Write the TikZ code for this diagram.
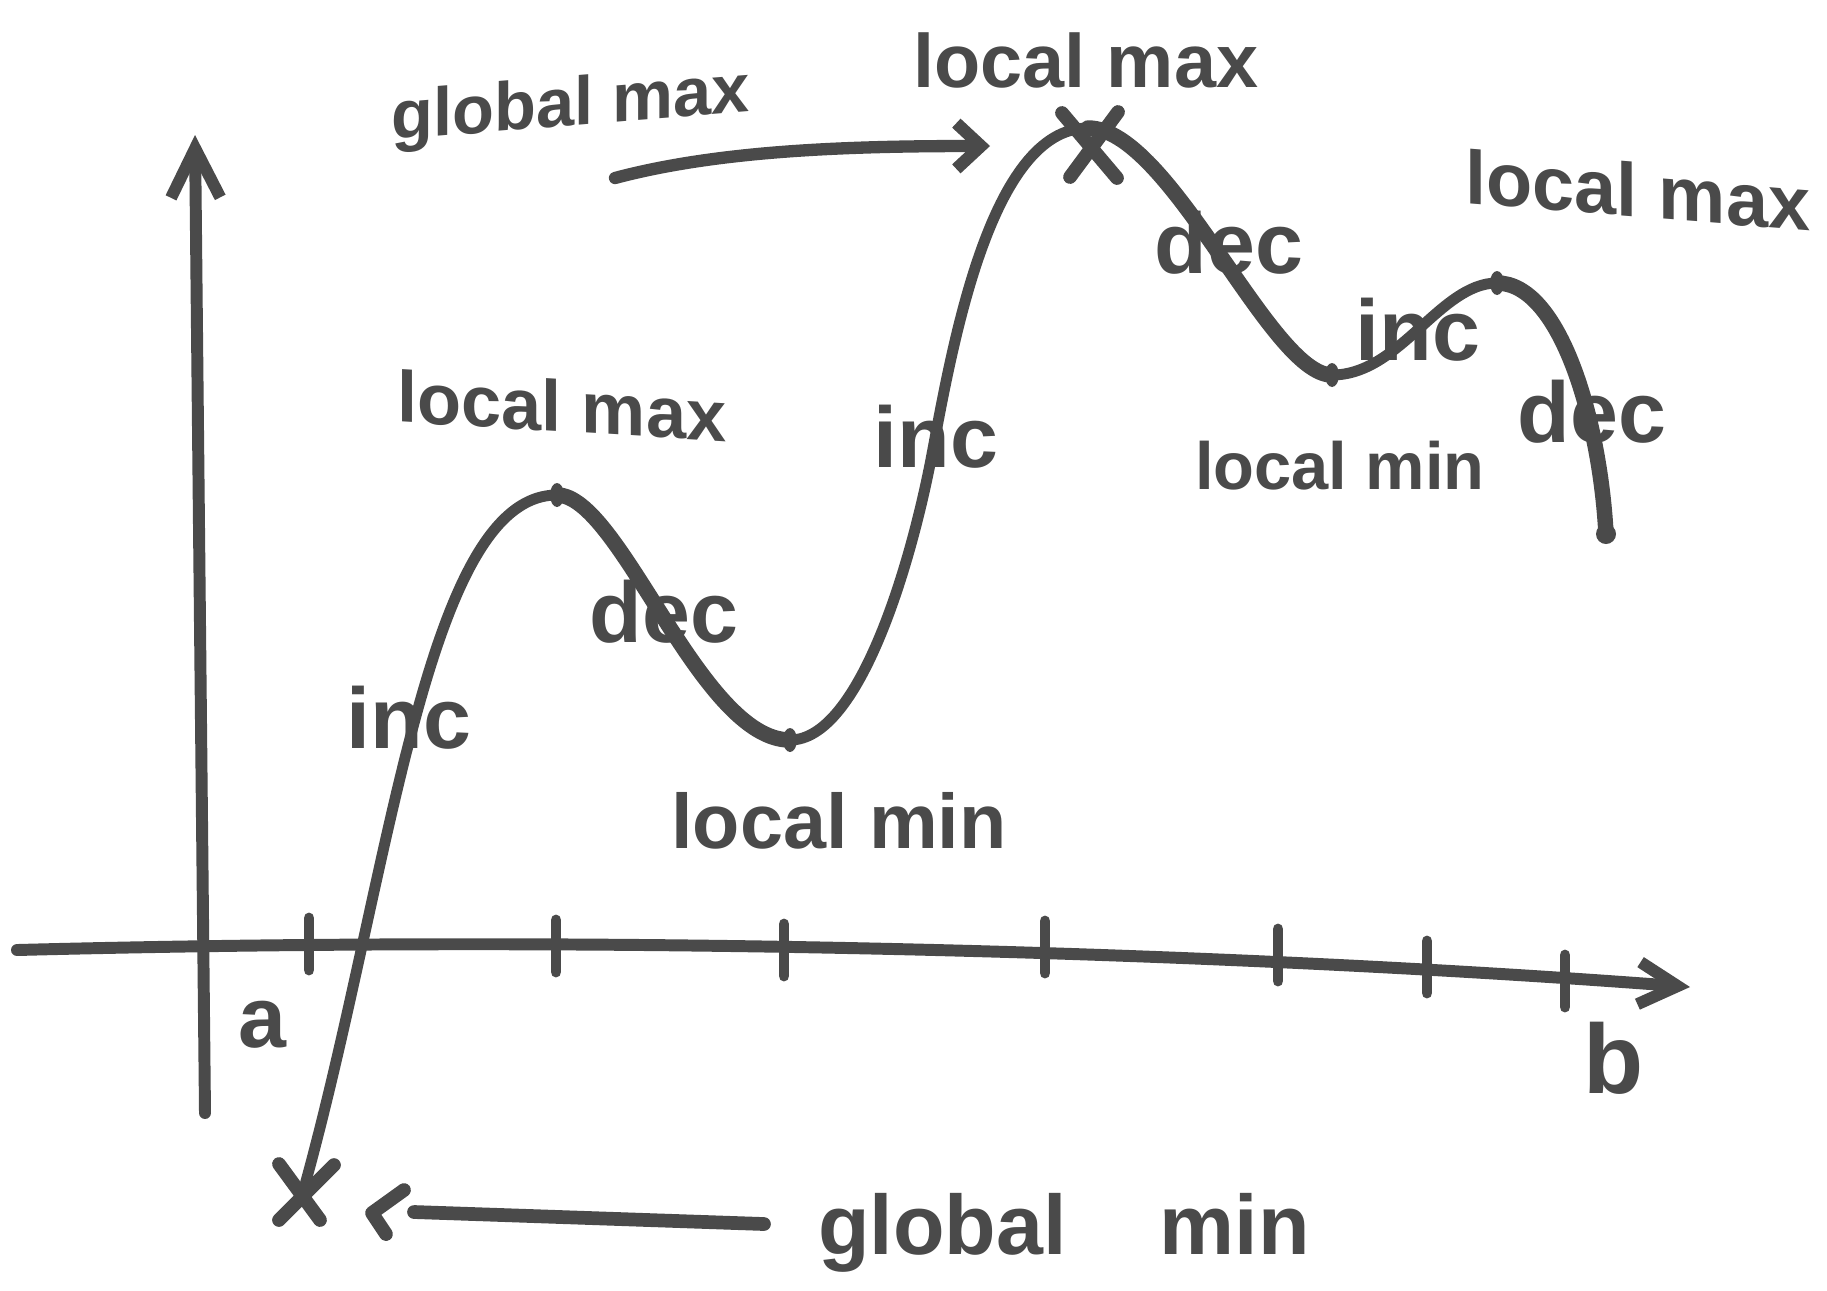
\documentclass[tikz,border=0pt]{standalone}
\usepackage{fontspec}
\setmainfont{Liberation Sans}
\usetikzlibrary{arrows.meta}
\definecolor{ink}{HTML}{4A4A4A}
\begin{document}
\begin{tikzpicture}[x=0.01cm,y=-0.01cm, line cap=round, line join=round,
  thinink/.style={draw=ink, line width=3.1pt},
  thickink/.style={draw=ink, line width=4.4pt},
  axisline/.style={draw=ink, line width=3.4pt},
  tickmark/.style={draw=ink, line width=3.1pt},
  lbl/.style={text=ink, font=\bfseries\fontsize{21.5}{26}\selectfont, inner sep=0pt},
  biglbl/.style={text=ink, font=\bfseries\fontsize{24.5}{29}\selectfont, inner sep=0pt},
  crossmark/.style={draw=ink, line width=3.9pt},
  blob/.style={fill=ink, draw=none},
  barbarrow/.style={draw=ink, line width=3.5pt, -{Straight Barb[length=7pt,width=13pt]}}
]
\useasboundingbox (0,0) rectangle (1827,1290);

% ---- axes
\coordinate (yb) at (205,1113);
\coordinate (yt) at (195,135);
\draw[axisline, -{Straight Barb[length=14pt,width=14pt]}] (yb) -- (yt);
\coordinate (xl) at (17,950);
\coordinate (xr) at (1690,987);
\draw[axisline, -{Straight Barb[length=11pt,width=12pt]}] (xl) .. controls (600,935) and (1200,950) .. (xr);

% ticks
\foreach \tx/\ty in {309/944, 556/946, 784/950, 1045/947, 1278/955, 1427/967, 1565/981}
  \draw[tickmark] (\tx,\ty-26) -- (\tx,\ty+26);

\node[biglbl] (la) at (262,1025) {a};
\node[biglbl, font=\bfseries\fontsize{28}{33}\selectfont] (lb) at (1614,1058) {b};

% ---- curve
\coordinate (gmin) at (303,1192);
\coordinate (lmaxA) at (557,495);
\coordinate (lminA) at (790,740);
\coordinate (incA) at (932,454);
\coordinate (gmax) at (1088,128);
\coordinate (lminB) at (1332,375);
\coordinate (lmaxB) at (1497,283);
\coordinate (fend) at (1606,534);

\draw[thinink] (gmin) .. controls (390,880) and (425,495) .. (lmaxA);
\draw[thickink] (lmaxA) .. controls (620,495) and (700,740) .. (lminA);
\draw[thinink] (lminA) .. controls (860,740) and (912,560) .. (incA)
                       .. controls (952,348) and (990,128) .. (gmax);
\draw[thickink] (gmax) .. controls (1170,128) and (1270,375) .. (lminB);
\draw[thinink] (lminB) .. controls (1400,375) and (1440,283) .. (lmaxB);
\draw[thickink] (lmaxB) .. controls (1560,283) and (1600,420) .. (fend);

\foreach \p in {lmaxA, lminA, lminB, lmaxB}
  \fill[blob] (\p) ellipse (7 and 12);
\fill[blob] (fend) circle (10);

% X marks
\draw[crossmark] (279,1164) -- (320,1220);
\draw[crossmark] (279,1220) -- (334,1165);
\draw[crossmark] (1062,113) -- (1117,178);
\draw[crossmark] (1118,112) -- (1070,177);

% ---- labels
\begin{scope}[shift={(571,108)}, yslant=0.08]
  \node[lbl, transform shape, font=\bfseries\fontsize{19.5}{24}\selectfont] (tgmax) at (0,0) {global max};
\end{scope}
\node[lbl] (tlmaxtop) at (1086,60) {local max};
\begin{scope}[shift={(1638,190)}, yslant=-0.08]
  \node[lbl, transform shape] (tlmaxright) at (0,0) {local max};
\end{scope}
\begin{scope}[shift={(562,406)}, yslant=-0.06]
  \node[lbl, transform shape, font=\bfseries\fontsize{20.5}{25}\selectfont] (tlmaxleft) at (0,0) {local max};
\end{scope}
\node[biglbl] (tdecA) at (1229,243) {dec};
\node[biglbl] (tincB) at (1418,330) {inc};
\node[biglbl] (tdecB) at (1592,412) {dec};
\node[lbl, font=\bfseries\fontsize{19}{23}\selectfont] (tlminright) at (1340,466) {local min};
\node[biglbl] (tincA) at (936,437) {inc};
\node[biglbl] (tdecL) at (664,612) {dec};
\node[biglbl] (tincL) at (409,718) {inc};
\node[lbl, font=\bfseries\fontsize{22}{26}\selectfont] (tlminbot) at (839,821) {local min};
\node[lbl, font=\bfseries\fontsize{24}{29}\selectfont] (tgmin) at (1064,1233) {global\hspace{1.1em}min};

% ---- arrows
\coordinate (gmaxS) at (615,178);
\coordinate (gmaxE) at (990,146);
\draw[barbarrow] (gmaxS) .. controls (720,150) and (850,146) .. (gmaxE);

\coordinate (gminS) at (764,1224);
\coordinate (gminE) at (414,1212);
\draw[draw=ink, line width=3.9pt] (gminS) -- (gminE);
\draw[draw=ink, line width=3.9pt] (404,1190) -- (372,1213) -- (386,1234);
\end{tikzpicture}
\end{document}
